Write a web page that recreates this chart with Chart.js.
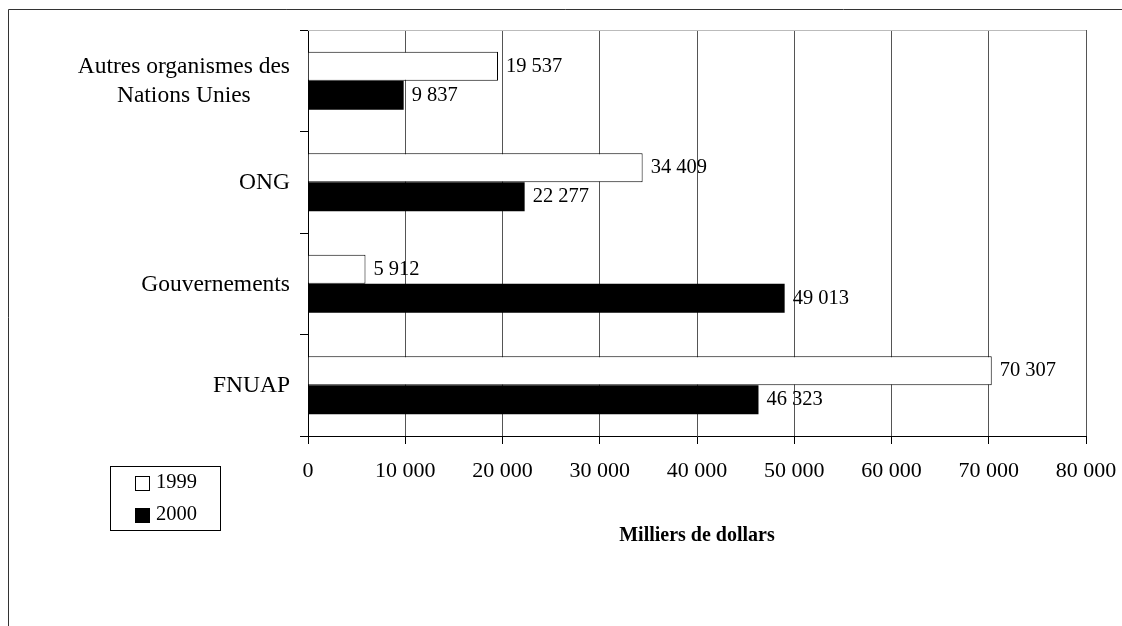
<!DOCTYPE html>
<html>
<head>
<meta charset="utf-8">
<script src="https://cdn.jsdelivr.net/npm/chart.js"></script>
<style>
  html, body { margin: 0; padding: 0; background: #fff; }
  canvas { display: block; }
</style>
</head>
<body>
<canvas id="bar-chart" width="1122" height="626"></canvas>
<script>
// data
const categories = [['Autres organismes des', 'Nations Unies'], 'ONG', 'Gouvernements', 'FNUAP'];
const years = ['1999', '2000'];
const values1999 = [19537, 34409, 5912, 70307];
const values2000 = [9837, 22277, 49013, 46323];
const xTicks = [0, 10000, 20000, 30000, 40000, 50000, 60000, 70000, 80000];
const xTitle = 'Milliers de dollars';

// 19537 -> "19 537"
const fmt = v => String(v).replace(/\B(?=(\d{3})+(?!\d))/g, ' ');

Chart.defaults.font.family = '"Liberation Serif", "Times New Roman", serif';
Chart.defaults.color = '#000';

//* outer frame, plot top edge, category labels, value labels, legend box
const extras = {
    id: 'extras',
    beforeDraw(chart) {
        const c = chart.ctx;
        c.save();
        c.strokeStyle = '#333';
        c.lineWidth = 1;
        c.beginPath();
        c.moveTo(8.5, 626);
        c.lineTo(8.5, 9.5);
        c.lineTo(1122, 9.5);
        c.stroke();
        c.restore();
    },
    beforeDatasetsDraw(chart) {
        const c = chart.ctx;
        const a = chart.chartArea;
        c.save();
        c.strokeStyle = '#bbb';
        c.lineWidth = 1;
        c.beginPath();
        c.moveTo(a.left, a.top + 0.5);
        c.lineTo(a.right, a.top + 0.5);
        c.stroke();
        c.restore();
    },
    afterDatasetsDraw(chart) {
        const c = chart.ctx;
        const y = chart.scales.y;
        c.save();
        c.fillStyle = '#000';
        c.textBaseline = 'middle';

        // category labels: block right aligned, lines centred in the block
        c.font = '23.5px "Liberation Serif"';
        const right = y.right - 18;
        chart.data.labels.forEach((lab, i) => {
            const lines = Array.isArray(lab) ? lab : [lab];
            const w = Math.max(...lines.map(l => c.measureText(l).width));
            const cy = y.getPixelForValue(i) + 1;
            const lh = 29;
            c.textAlign = 'center';
            lines.forEach((l, k) => {
                c.fillText(l, right - w / 2, cy + (k - (lines.length - 1) / 2) * lh);
            });
        });

        // value labels at the end of each bar
        c.font = '20.5px "Liberation Serif"';
        c.textAlign = 'left';
        chart.data.datasets.forEach((ds, di) => {
            chart.getDatasetMeta(di).data.forEach((bar, i) => {
                c.fillText(fmt(ds.data[i]), bar.x + 8, bar.y);
            });
        });

        // legend
        c.strokeStyle = '#000';
        c.lineWidth = 1;
        c.strokeRect(110.5, 466.5, 110, 64);
        chart.data.datasets.forEach((ds, di) => {
            const ly = 483 + di * 32;
            c.fillStyle = ds.backgroundColor;
            c.fillRect(135, ly - 7, 15, 15);
            c.strokeRect(135.5, ly - 6.5, 14, 14);
            c.fillStyle = '#000';
            c.fillText(ds.label, 156, ly);
        });
        c.restore();
    }
};

new Chart(document.getElementById('bar-chart'), {
    type: 'bar',
    data: {
        labels: categories,
        datasets: [{
            label: years[0],
            data: values1999,
            backgroundColor: '#fff',
            borderColor: '#000',
            borderWidth: 1,
        },
        {
            label: years[1],
            data: values2000,
            backgroundColor: '#000',
            borderColor: '#000',
            borderWidth: 0,
        }]
    },
    options: {
        indexAxis: 'y',
        responsive: false,
        animation: false,
        devicePixelRatio: 1,
        categoryPercentage: 0.571,
        barPercentage: 1,
        layout: {
            padding: { left: 300, right: 36, top: 30, bottom: 76 }
        },
        plugins: {
            legend: { display: false },
            tooltip: { enabled: false }
        },
        scales: {
            x: {
                min: 0,
                max: 80000,
                afterBuildTicks: s => { s.ticks = xTicks.map(v => ({ value: v })); },
                afterFit: s => {
                    s.height = 114;
                    s.paddingLeft = 0;
                    s.paddingRight = 0;
                },
                ticks: {
                    font: { size: 22 },
                    padding: 14,
                    maxRotation: 0,
                    autoSkip: false,
                    callback: v => fmt(v)
                },
                grid: {
                    color: '#555',
                    tickColor: '#000',
                    tickLength: 8,
                    drawTicks: true
                },
                border: { color: '#000' },
                title: {
                    display: true,
                    text: xTitle,
                    font: { size: 20, weight: 'bold' },
                    padding: { top: 39.6, bottom: 2 }
                }
            },
            y: {
                ticks: { display: false },
                grid: {
                    offset: true,
                    drawOnChartArea: false,
                    color: '#000',
                    tickLength: 8
                },
                border: { color: '#000' }
            }
        }
    },
    plugins: [extras]
});
</script>
</body>
</html>
